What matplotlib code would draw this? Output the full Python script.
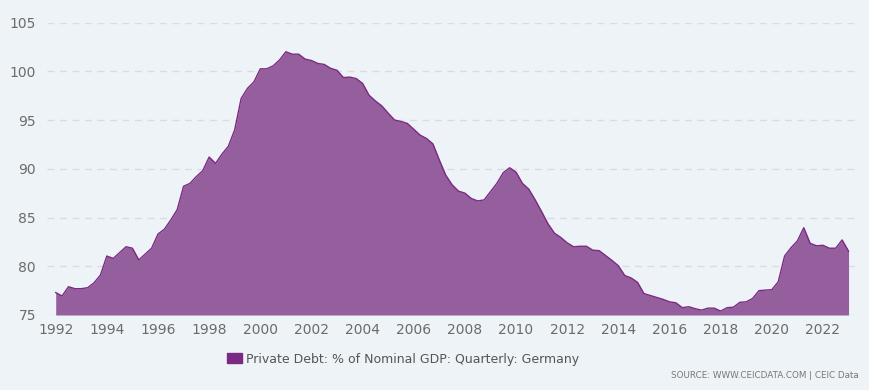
import numpy as np
import matplotlib
matplotlib.use("Agg")
import matplotlib.pyplot as plt
from matplotlib.patches import Patch

# quarterly, 1992 Q1 .. 2023 Q1
start_year = 1992.0
debt = [
    77.3, 76.95, 77.9, 77.7, 77.7, 77.8, 78.3, 79.1,
    81.05, 80.8, 81.4, 82.0, 81.85, 80.65, 81.25, 81.85,
    83.3, 83.8, 84.75, 85.8, 88.2, 88.5, 89.2, 89.8,
    91.2, 90.55, 91.5, 92.3, 94.0, 97.2, 98.25, 98.9,
    100.25, 100.25, 100.55, 101.15, 102.0,
    101.75, 101.75, 101.25, 101.1, 100.8, 100.7, 100.3, 100.1,
    99.35, 99.4, 99.25, 98.75, 97.55, 96.95, 96.45, 95.7,
    95.0, 94.85, 94.65, 94.05, 93.45, 93.1, 92.55, 90.9,
    89.35, 88.35, 87.7, 87.5, 86.95, 86.7, 86.8, 87.65,
    88.5, 89.6, 90.1, 89.65, 88.5, 87.9, 86.8, 85.6,
    84.35, 83.4, 82.95, 82.4,
    82.0, 82.05, 82.05, 81.65, 81.6, 81.1, 80.6, 80.05,
    79.05, 78.8, 78.35, 77.2, 77.0, 76.8, 76.6, 76.35,
    76.25, 75.75, 75.85, 75.65, 75.5, 75.7, 75.7, 75.4,
    75.75, 75.8, 76.3, 76.35, 76.7, 77.5, 77.55, 77.6,
    78.4, 81.05, 81.9, 82.6, 83.95, 82.35, 82.1, 82.15,
    81.85, 81.85, 82.7, 81.55,
]
x_ticks = list(range(1992, 2023, 2))
y_ticks = [75, 80, 85, 90, 95, 100, 105]
series_name = "Private Debt: % of Nominal GDP: Quarterly: Germany"
source_text = "SOURCE: WWW.CEICDATA.COM | CEIC Data"

bg = "#eef3f7"
line_col = "#7a2a82"
fill_col = "#955e9c"
text_col = "#6b6b6b"

t = start_year + 0.25 * np.arange(len(debt))

fig = plt.figure(figsize=(8.69, 3.9), dpi=100, facecolor=bg)
ax = fig.add_axes([47 / 869, 1 - 315 / 390, (858 - 47) / 869, (315 - 22.5) / 390])
ax.set_facecolor(bg)

ax.fill_between(t, debt, 75, color=fill_col, linewidth=0, zorder=2)
ax.plot(t, debt, color=line_col, linewidth=1.0, zorder=3)

ax.set_xlim(1991.66, 2023.37)
ax.set_ylim(75, 105)
ax.set_xticks(x_ticks)
ax.set_yticks(y_ticks)
ax.grid(axis="y", color="#d9dde2", linestyle=(0, (5, 4)), linewidth=1, zorder=1)
for s in ax.spines.values():
    s.set_visible(False)
ax.tick_params(axis="both", length=0, labelsize=10, labelcolor=text_col)
ax.tick_params(axis="y", pad=8)
ax.tick_params(axis="x", pad=6)

leg = fig.legend(handles=[Patch(color=line_col, label=series_name)],
                 loc="center", bbox_to_anchor=(403 / 869, 1 - 359 / 390),
                 frameon=False, fontsize=9, handlelength=1.2, handleheight=0.9,
                 handletextpad=0.3)
for txt in leg.get_texts():
    txt.set_color("#555555")

fig.text(859 / 869, 1 - 376 / 390, source_text, ha="right", va="center",
         fontsize=6.3, color="#777777")

fig.savefig("out.png", dpi=100, facecolor=bg)
